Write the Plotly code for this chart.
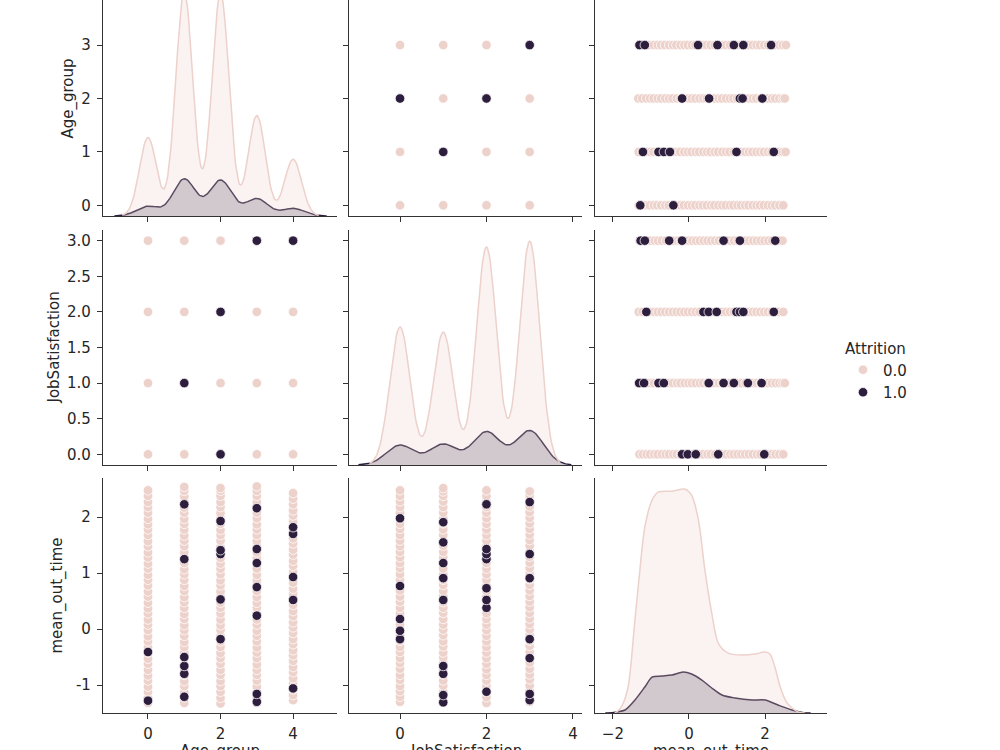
import numpy as np
import plotly.graph_objects as go

PINK = '#edd1cb'
DARK = '#2d1e3e'
TXT = '#262626'
AX = '#333333'
FONT = 'DejaVu Sans'

VARS = ['Age_group', 'JobSatisfaction', 'mean_out_time']

# ---------------- data ----------------
AGE_LEVELS = [0, 1, 2, 3, 4]
JS_LEVELS = [0, 1, 2, 3]
AGE_COUNT_0 = [253, 722, 718, 324, 183]
AGE_COUNT_1 = [41, 156, 151, 73, 32]
JS_COUNT_0 = [426, 410, 673, 691]
JS_COUNT_1 = [83, 87, 139, 144]

# Age_group x JobSatisfaction combinations
GRID_PINK_AGE = [0, 1, 2, 3, 4, 0, 1, 2, 3, 4, 0, 1, 2, 3, 4, 0, 1, 2, 3, 4]
GRID_PINK_JS = [0, 0, 0, 0, 0, 1, 1, 1, 1, 1, 2, 2, 2, 2, 2, 3, 3, 3, 3, 3]
GRID_DARK_AGE = [3, 4, 2, 1, 2]
GRID_DARK_JS = [3, 3, 2, 1, 0]

# mean_out_time values by Age_group (Attrition 0 / 1)
MOT_PINK_BY_AGE = [
    [-1.32, -1.23, -1.12, -1.03, -0.92, -0.83, -0.73, -0.62, -0.53, -0.42, -0.33, -0.22, -0.13, -0.02, 0.08, 0.17,
     0.28, 0.37, 0.47, 0.58, 0.67, 0.78, 0.88, 0.97, 1.08, 1.17, 1.28, 1.37, 1.48, 1.57, 1.68, 1.78, 1.87, 1.97,
     2.08, 2.18, 2.27, 2.38, 2.48],
    [-1.32, -1.22, -1.13, -1.02, -0.93, -0.82, -0.72, -0.63, -0.52, -0.42, -0.32, -0.23, -0.12, -0.02, 0.07, 0.18,
     0.27, 0.38, 0.48, 0.57, 0.68, 0.77, 0.88, 0.98, 1.07, 1.18, 1.28, 1.37, 1.48, 1.58, 1.67, 1.78, 1.88, 1.97,
     2.08, 2.17, 2.28, 2.37, 2.47, 2.54],
    [-1.33, -1.23, -1.12, -1.02, -0.93, -0.82, -0.73, -0.62, -0.52, -0.43, -0.32, -0.22, -0.13, -0.02, 0.07, 0.17,
     0.28, 0.38, 0.47, 0.58, 0.67, 0.78, 0.87, 0.98, 1.08, 1.17, 1.27, 1.38, 1.47, 1.58, 1.68, 1.77, 1.88, 1.98,
     2.07, 2.18, 2.27, 2.38, 2.47, 2.52],
    [-1.32, -1.22, -1.12, -1.03, -0.92, -0.82, -0.73, -0.63, -0.52, -0.42, -0.33, -0.22, -0.12, -0.03, 0.08, 0.17,
     0.27, 0.38, 0.47, 0.57, 0.68, 0.78, 0.87, 0.97, 1.08, 1.18, 1.27, 1.37, 1.48, 1.57, 1.68, 1.78, 1.87, 1.98,
     2.08, 2.17, 2.27, 2.38, 2.47, 2.55],
    [-1.27, -1.18, -1.08, -0.97, -0.88, -0.77, -0.68, -0.57, -0.47, -0.38, -0.27, -0.18, -0.07, 0.03, 0.12, 0.23,
     0.32, 0.43, 0.52, 0.63, 0.72, 0.83, 0.93, 1.02, 1.13, 1.22, 1.33, 1.42, 1.53, 1.62, 1.73, 1.83, 1.92, 2.03,
     2.12, 2.23, 2.33, 2.43],
]
MOT_DARK_BY_AGE = [
    [-1.28, -0.41],
    [-1.21, -0.80, -0.66, -0.50, 1.25, 2.23],
    [-0.18, 0.53, 1.34, 1.41, 1.93],
    [-1.30, -1.16, 0.24, 0.75, 1.18, 1.43, 2.16],
    [-1.06, 0.52, 0.93, 1.70, 1.82],
]
# mean_out_time values by JobSatisfaction
MOT_PINK_BY_JS = [
    [-1.30, -1.21, -1.11, -1.02, -0.91, -0.82, -0.71, -0.61, -0.52, -0.41, -0.32, -0.21, -0.12, -0.01, 0.08, 0.19,
     0.28, 0.38, 0.49, 0.58, 0.69, 0.78, 0.88, 0.98, 1.09, 1.18, 1.28, 1.38, 1.48, 1.58, 1.68, 1.79, 1.88, 1.98,
     2.08, 2.18, 2.28, 2.38, 2.48],
    [-1.31, -1.21, -1.12, -1.01, -0.92, -0.81, -0.72, -0.61, -0.51, -0.42, -0.31, -0.22, -0.11, -0.01, 0.08, 0.18,
     0.29, 0.38, 0.48, 0.59, 0.68, 0.79, 0.88, 0.98, 1.08, 1.19, 1.28, 1.38, 1.49, 1.58, 1.68, 1.78, 1.89, 1.98,
     2.08, 2.18, 2.28, 2.38, 2.46, 2.52],
    [-1.32, -1.22, -1.12, -1.02, -0.92, -0.82, -0.72, -0.62, -0.52, -0.42, -0.32, -0.22, -0.12, -0.02, 0.08, 0.18,
     0.28, 0.38, 0.48, 0.58, 0.68, 0.78, 0.88, 0.98, 1.08, 1.18, 1.28, 1.38, 1.48, 1.58, 1.68, 1.78, 1.88, 1.98,
     2.08, 2.18, 2.28, 2.38, 2.48],
    [-1.30, -1.20, -1.11, -1.01, -0.90, -0.81, -0.71, -0.60, -0.51, -0.41, -0.30, -0.21, -0.11, -0.01, 0.09, 0.19,
     0.29, 0.39, 0.49, 0.59, 0.69, 0.79, 0.89, 0.99, 1.09, 1.19, 1.29, 1.39, 1.49, 1.59, 1.69, 1.79, 1.89, 1.99,
     2.09, 2.19, 2.29, 2.38, 2.46],
]
MOT_DARK_BY_JS = [
    [-0.18, -0.03, 0.18, 0.77, 1.98],
    [-1.31, -1.18, -0.80, -0.66, 0.52, 0.91, 1.18, 1.55, 1.91],
    [-1.12, 0.38, 0.52, 0.73, 1.25, 1.34, 1.43, 2.23],
    [-1.27, -1.16, -0.52, -0.18, 0.91, 1.34, 2.27],
]

# mean_out_time density curves
MOT_KDE_X_0 = [-1.95, -1.87, -1.75, -1.6, -1.42, -1.29, -1.16, -0.97, -0.81, -0.45, -0.1, 0.07, 0.25, 0.42, 0.6,
               0.77, 1.03, 1.39, 1.74, 2.0, 2.13, 2.26, 2.4, 2.58, 2.87, 3.05]
MOT_KDE_Y_0 = [0.0, 0.002, 0.008, 0.026, 0.093, 0.143, 0.186, 0.213, 0.221, 0.222, 0.224, 0.218, 0.193, 0.143,
               0.100, 0.070, 0.060, 0.058, 0.059, 0.061, 0.059, 0.046, 0.026, 0.010, 0.001, 0.0]
MOT_KDE_X_1 = [-2.2, -2.13, -1.9, -1.68, -1.42, -1.16, -0.97, -0.71, -0.45, -0.15, 0.07, 0.34, 0.6, 0.87, 1.21,
               1.66, 2.0, 2.34, 2.71, 3.05, 3.2]
MOT_KDE_Y_1 = [0.0, 0.0, 0.001, 0.003, 0.013, 0.026, 0.036, 0.037, 0.038, 0.041, 0.039, 0.033, 0.025, 0.018,
               0.015, 0.013, 0.013, 0.008, 0.003, 0.0, 0.0]

# ---------------- geometry ----------------
W, H = 1000, 750
COL_PX = [(103, 337), (349, 582), (595, 827)]
ROW_PX = [(-19, 216), (230, 465), (478, 713)]
XR = [[-1.24, 5.21], [-1.18, 4.21], [-2.47, 3.63]]
YR = [[-0.2, 4.2], [-0.15, 3.15], [-1.5, 2.70]]
XT = [[0, 2, 4], [0, 2, 4], [-2, 0, 2]]
YT = [[0, 1, 2, 3, 4], [0, 0.5, 1, 1.5, 2, 2.5, 3], [-1, 0, 1, 2]]
YFMT = ['{:d}', '{:.1f}', '{:d}']


def kde(levels, counts, n_total):
    data = np.repeat(np.array(levels, float), counts)
    bw = data.std(ddof=1) * len(data) ** (-0.2)
    grid = np.linspace(data.min() - 3 * bw, data.max() + 3 * bw, 200)
    dens = np.zeros_like(grid)
    for lv, cnt in zip(levels, counts):
        dens += cnt * np.exp(-0.5 * ((grid - lv) / bw) ** 2) / (bw * np.sqrt(2 * np.pi))
    return grid, dens / n_total


def row_domain(r):
    t, b = ROW_PX[r]
    return [1 - b / H, 1 - max(t, 0) / H]


def row_range(r):
    t, b = ROW_PX[r]
    tv = max(t, 0)
    yr = list(YR[r])
    yr[1] = yr[0] + (yr[1] - yr[0]) * (b - tv) / (b - t)
    return yr


N_TOTAL = sum(AGE_COUNT_0) + sum(AGE_COUNT_1)
DIAG = [
    [kde(AGE_LEVELS, AGE_COUNT_1, N_TOTAL), kde(AGE_LEVELS, AGE_COUNT_0, N_TOTAL)],
    [kde(JS_LEVELS, JS_COUNT_1, N_TOTAL), kde(JS_LEVELS, JS_COUNT_0, N_TOTAL)],
    [(np.array(MOT_KDE_X_1), np.array(MOT_KDE_Y_1)), (np.array(MOT_KDE_X_0), np.array(MOT_KDE_Y_0))],
]
DIAG_TOP = []
for r in range(3):
    t, b = ROW_PX[r]
    ymax = max(float(np.max(cv[1])) for cv in DIAG[r]) * 1.05
    DIAG_TOP.append(ymax * (b - max(t, 0)) / (b - t))

fig = go.Figure()
layout = {}
for r in range(3):
    yr = row_range(r)
    labels = [YFMT[r].format(v) for v in YT[r]]
    for c in range(3):
        k = r * 3 + c + 1
        x0, x1 = COL_PX[c]
        xa = dict(domain=[x0 / W, x1 / W], anchor=f'y{k}', range=XR[c], showline=True, linecolor=AX,
                  linewidth=1.2, ticks='outside', ticklen=5, tickwidth=1.1, tickcolor=AX, tickvals=XT[c],
                  showticklabels=(r == 2), showgrid=False, zeroline=False,
                  tickfont=dict(family=FONT, size=15, color=TXT), ticklabelstandoff=2)
        if r == c:
            top = DIAG_TOP[r]
            tv = [(v - yr[0]) / (yr[1] - yr[0]) * top for v in YT[r]]
            rng = [0, top]
        else:
            tv = YT[r]
            rng = yr
        ya = dict(domain=row_domain(r), anchor=f'x{k}', range=rng, showline=True, linecolor=AX,
                  linewidth=1.2, ticks='outside', ticklen=5, tickwidth=1.1, tickcolor=AX, tickvals=tv,
                  ticktext=labels, showticklabels=(c == 0), showgrid=False, zeroline=False,
                  tickfont=dict(family=FONT, size=15, color=TXT), ticklabelstandoff=3)
        layout['xaxis' if k == 1 else f'xaxis{k}'] = xa
        layout['yaxis' if k == 1 else f'yaxis{k}'] = ya


def ax(k):
    return ('x' if k == 1 else f'x{k}'), ('y' if k == 1 else f'y{k}')


MK = dict(size=9.5, line=dict(color='white', width=0.75))
legend_done = set()


def scatter(k, xs, ys, color, name):
    xa, ya = ax(k)
    show = name not in legend_done
    legend_done.add(name)
    fig.add_trace(go.Scatter(x=xs, y=ys, xaxis=xa, yaxis=ya, mode='markers', name=name, legendgroup=name,
                             showlegend=show, marker=dict(color=color, **MK), hoverinfo='skip'))


# Age vs JS panels
scatter(2, GRID_PINK_JS, GRID_PINK_AGE, PINK, '0.0')
scatter(2, GRID_DARK_JS, GRID_DARK_AGE, DARK, '1.0')
scatter(4, GRID_PINK_AGE, GRID_PINK_JS, PINK, '0.0')
scatter(4, GRID_DARK_AGE, GRID_DARK_JS, DARK, '1.0')

# mean_out_time panels
for (k, groups_p, groups_d, levels, mot_is_x) in [
    (3, MOT_PINK_BY_AGE, MOT_DARK_BY_AGE, AGE_LEVELS, True),
    (7, MOT_PINK_BY_AGE, MOT_DARK_BY_AGE, AGE_LEVELS, False),
    (6, MOT_PINK_BY_JS, MOT_DARK_BY_JS, JS_LEVELS, True),
    (8, MOT_PINK_BY_JS, MOT_DARK_BY_JS, JS_LEVELS, False),
]:
    px_, py_, dx_, dy_ = [], [], [], []
    for lv, vp, vd in zip(levels, groups_p, groups_d):
        px_ += vp
        py_ += [lv] * len(vp)
        dx_ += vd
        dy_ += [lv] * len(vd)
    if mot_is_x:
        scatter(k, px_, py_, PINK, '0.0')
        scatter(k, dx_, dy_, DARK, '1.0')
    else:
        scatter(k, py_, px_, PINK, '0.0')
        scatter(k, dy_, dx_, DARK, '1.0')

# diagonal KDEs
for r in range(3):
    k = r * 3 + r + 1
    xa, ya = ax(k)
    for (gx, gy), col, fill in zip(DIAG[r], [DARK, PINK],
                                   ['rgba(45,30,62,0.25)', 'rgba(237,209,203,0.25)']):
        fig.add_trace(go.Scatter(x=gx, y=gy, xaxis=xa, yaxis=ya, mode='lines', fill='tozeroy',
                                 fillcolor=fill, line=dict(color=col, width=1.5,
                                                           shape='spline' if r == 2 else 'linear',
                                                           smoothing=0.8),
                                 showlegend=False, hoverinfo='skip'))

# axis titles
annotations = []
YLAB_X = [68, 53, 57]
for r in range(3):
    t, b = ROW_PX[r]
    cy = (t + b) / 2
    annotations.append(dict(text=VARS[r], x=YLAB_X[r] / W, y=1 - cy / H, xref='paper', yref='paper',
                            textangle=-90, showarrow=False, xanchor='center', yanchor='middle',
                            font=dict(family=FONT, size=15, color=TXT)))
for c in range(3):
    x0, x1 = COL_PX[c]
    annotations.append(dict(text=VARS[c], x=(x0 + x1) / 2 / W, y=1 - 751 / H, xref='paper', yref='paper',
                            showarrow=False, xanchor='center', yanchor='middle',
                            font=dict(family=FONT, size=15, color=TXT)))

fig.update_layout(
    width=W, height=H, margin=dict(l=0, r=0, t=0, b=0),
    paper_bgcolor='white', plot_bgcolor='white',
    font=dict(family=FONT, size=15, color=TXT),
    showlegend=True,
    legend=dict(title=dict(text='Attrition', font=dict(family=FONT, size=15, color=TXT)),
                x=0.843, y=1 - 334 / H, xanchor='left', yanchor='top',
                font=dict(family=FONT, size=15, color=TXT), bgcolor='rgba(0,0,0,0)',
                itemsizing='trace', tracegroupgap=0),
    annotations=annotations,
    **layout,
)

fig.write_html('out.html')
